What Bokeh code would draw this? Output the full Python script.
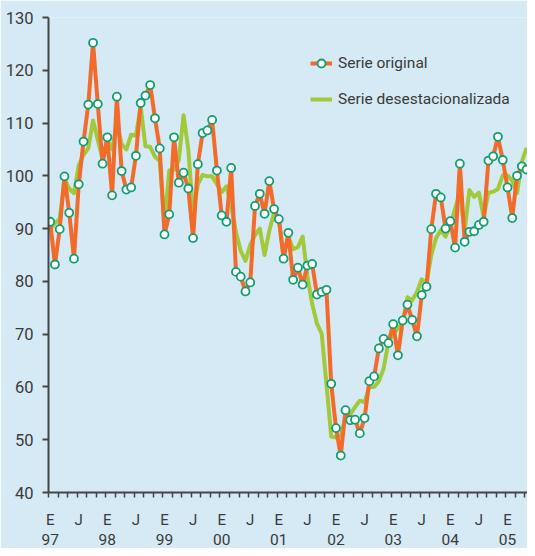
from bokeh.plotting import figure
from bokeh.models import Range1d, FixedTicker, LinearAxis, Legend, LegendItem
from bokeh.embed import file_html
from bokeh.resources import INLINE

# month index 0 = enero 1997 ... 100 = mayo 2005
months = list(range(101))

serie_original = [
    91.3, 83.2, 89.9, 99.9, 93.0, 84.3, 98.4, 106.5, 113.5, 125.2, 113.6, 102.3,
    107.3, 96.3, 115.0, 100.9, 97.4, 97.8, 103.8, 113.8, 115.2, 117.2, 110.9, 105.2,
    88.9, 92.7, 107.3, 98.7, 100.6, 97.6, 88.2, 102.2, 108.1, 108.6, 110.6, 101.0,
    92.5, 91.3, 101.5, 81.8, 80.9, 78.1, 79.8, 94.3, 96.6, 92.8, 99.0, 93.7,
    91.8, 84.3, 89.2, 80.3, 82.6, 79.4, 83.0, 83.3, 77.5, 78.0, 78.4, 60.6,
    52.2, 47.0, 55.6, 53.7, 53.8, 51.2, 54.1, 61.1, 62.0, 67.3, 69.1, 68.3,
    71.9, 66.0, 72.6, 75.6, 72.7, 69.6, 77.4, 79.0, 89.9, 96.6, 95.9, 90.0,
    91.4, 86.4, 102.3, 87.5, 89.4, 89.5, 90.7, 91.3, 102.9, 103.7, 107.4, 103.0,
    97.8, 92.0, 100.0, 101.8, 101.2,
]

serie_desestacionalizada = [
    89.9, 91.0, 91.8, 99.3, 97.6, 96.7, 102.0, 104.0, 105.2, 110.5, 106.8, 103.3,
    106.8, 105.0, 109.9, 106.0, 105.0, 107.8, 107.6, 113.1, 105.6, 105.5, 103.6, 102.8,
    91.0, 101.0, 101.2, 103.0, 111.5, 105.0, 92.6, 98.4, 100.2, 99.9, 99.9, 98.4,
    96.9, 98.0, 94.5, 89.3, 85.8, 83.9, 86.9, 88.8, 90.0, 85.0, 89.6, 93.0,
    91.8, 84.9, 88.5, 86.1, 86.5, 88.5, 81.0, 75.7, 72.0, 70.1, 60.5, 50.6,
    50.4, 50.8, 54.2, 54.8, 56.2, 57.4, 57.1, 60.0, 60.0, 61.1, 63.5, 68.5,
    70.0, 71.1, 72.2, 77.0, 76.4, 78.0, 80.4, 79.6, 85.0, 88.2, 89.7, 88.5,
    90.6, 93.8, 96.7, 89.7, 97.3, 96.0, 96.8, 92.2, 96.8, 97.0, 97.5, 100.1,
    100.1, 99.1, 96.7, 102.6, 105.3,
]

y_ticks = [40, 50, 60, 70, 80, 90, 100, 110, 120, 130]
month_label_ticks = list(range(0, 97, 6))
month_labels = ["E" if m % 12 == 0 else "J" for m in month_label_ticks]
year_ticks = list(range(0, 97, 12))
year_labels = ["97", "98", "99", "00", "01", "02", "03", "04", "05"]
minor_x_ticks = [-0.35 + 2 * k for k in range(51)]

BG = "#d6eaf5"
ORANGE = "#f26b2b"
GREEN = "#a2c83c"
MARKER = "#119e72"
AXIS = "#454545"
TEXT = "#3a3a3a"
FONT = "Roboto"

p = figure(width=527, height=548, output_backend="svg", toolbar_location=None,
           x_range=Range1d(-0.35, 100.2), y_range=Range1d(40, 130),
           x_axis_type=None, y_axis_type=None,
           min_border_left=48, min_border_right=0, min_border_top=17, min_border_bottom=56)
p.background_fill_color = BG
p.border_fill_color = BG
p.outline_line_color = None
p.xgrid.visible = False
p.ygrid.visible = False

# y axis
yax = LinearAxis(ticker=FixedTicker(ticks=y_ticks, minor_ticks=[]))
yax.axis_line_color = AXIS
yax.axis_line_width = 2
yax.major_tick_line_color = AXIS
yax.major_tick_line_width = 2
yax.major_tick_in = 0
yax.major_tick_out = 6
yax.minor_tick_line_color = None
yax.minor_tick_out = 0
yax.major_label_text_font = FONT
yax.major_label_text_font_size = "16.5px"
yax.major_label_text_color = TEXT
yax.major_label_standoff = 9
p.add_layout(yax, "left")

# x axis: E / J labels
xax = LinearAxis(ticker=FixedTicker(ticks=month_label_ticks, minor_ticks=minor_x_ticks))
xax.major_label_overrides = {m: lab for m, lab in zip(month_label_ticks, month_labels)}
xax.axis_line_color = AXIS
xax.axis_line_width = 2
xax.major_tick_line_color = None
xax.major_tick_in = 0
xax.major_tick_out = 0
xax.minor_tick_line_color = AXIS
xax.minor_tick_line_width = 1.5
xax.minor_tick_in = 0
xax.minor_tick_out = 5
xax.major_label_text_font = FONT
xax.major_label_text_font_size = "15px"
xax.major_label_text_color = TEXT
xax.major_label_standoff = 13
p.add_layout(xax, "below")

# x axis: years
yrax = LinearAxis(ticker=FixedTicker(ticks=year_ticks, minor_ticks=[]))
yrax.major_label_overrides = {m: lab for m, lab in zip(year_ticks, year_labels)}
yrax.axis_line_color = None
yrax.major_tick_line_color = None
yrax.minor_tick_line_color = None
yrax.major_tick_in = 0
yrax.major_tick_out = 0
yrax.minor_tick_out = 0
yrax.major_label_text_font = FONT
yrax.major_label_text_font_size = "15.5px"
yrax.major_label_text_color = TEXT
yrax.major_label_standoff = 2
p.add_layout(yrax, "below")

l_green = p.line(months, serie_desestacionalizada, line_color=GREEN, line_width=4,
                 line_join="round")
l_orig = p.line(months, serie_original, line_color=ORANGE, line_width=4, line_join="round")
c_orig = p.scatter(months, serie_original, marker="circle", size=8, fill_color="white",
                   line_color=MARKER, line_width=1.8)

legend = Legend(items=[
    LegendItem(label="Serie original", renderers=[l_orig, c_orig]),
    LegendItem(label="Serie desestacionalizada", renderers=[l_green]),
], location=(262, 383))
legend.background_fill_alpha = 0
legend.border_line_color = None
legend.padding = 0
legend.margin = 0
legend.spacing = 16
legend.glyph_width = 22
legend.glyph_height = 20
legend.label_height = 20
legend.label_standoff = 6
legend.label_text_font = FONT
legend.label_text_font_size = "15.5px"
legend.label_text_color = TEXT
p.add_layout(legend)

open("out.html", "w").write(file_html(p, INLINE))
